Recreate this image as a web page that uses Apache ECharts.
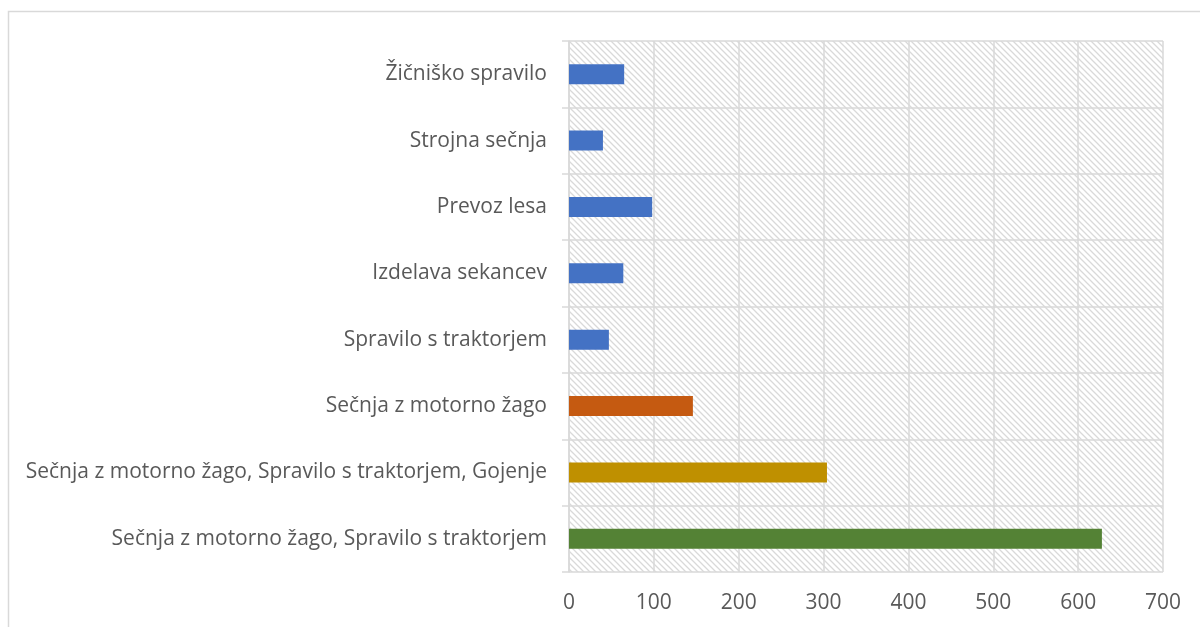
<!DOCTYPE html>
<html>
<head>
<meta charset="utf-8">
<script src="https://cdn.jsdelivr.net/npm/echarts@6/dist/echarts.min.js"></script>
<style>
  html, body { margin: 0; padding: 0; background: #fff; }
  #chart { width: 1200px; height: 627px; }
</style>
</head>
<body>
<div id="chart"></div>
<script>
// categories bottom to top (category axis starts at the bottom)
var categories = [
  'Sečnja z motorno žago, Spravilo s traktorjem',
  'Sečnja z motorno žago, Spravilo s traktorjem, Gojenje',
  'Sečnja z motorno žago',
  'Spravilo s traktorjem',
  'Izdelava sekancev',
  'Prevoz lesa',
  'Strojna sečnja',
  'Žičniško spravilo'
];
var values = [628, 304, 146, 47, 64, 98, 40, 65];
var barColors = ['#548235', '#BF9000', '#C55A11', '#4472C4', '#4472C4', '#4472C4', '#4472C4', '#4472C4'];
var xTicks = [0, 100, 200, 300, 400, 500, 600, 700];

// hatch pattern for the plot area
function makeHatch() {
  var c = document.createElement('canvas');
  c.width = 6; c.height = 6;
  var ctx = c.getContext('2d');
  ctx.fillStyle = '#ffffff';
  ctx.fillRect(0, 0, 6, 6);
  ctx.strokeStyle = '#d9d9d9';
  ctx.lineWidth = 1.3;
  ctx.beginPath();
  ctx.moveTo(-1, -1); ctx.lineTo(7, 7);
  ctx.moveTo(-4, 2); ctx.lineTo(2, 8);
  ctx.moveTo(2, -4); ctx.lineTo(8, 2);
  ctx.stroke();
  return c;
}

var myChart = echarts.init(document.getElementById('chart'));
var option = {
  animation: false,
  backgroundColor: '#ffffff',
  textStyle: { fontFamily: 'Open Sans' },
  graphic: [{
    type: 'rect',
    shape: { x: 8.5, y: 11.5, width: 1300, height: 700 },
    style: { fill: 'none', stroke: '#d9d9d9', lineWidth: 1.5 },
    silent: true
  }],
  grid: {
    left: 569, right: 37, top: 41, bottom: 55,
    show: true,
    borderWidth: 0,
    backgroundColor: { image: makeHatch(), repeat: 'repeat' }
  },
  xAxis: {
    type: 'value',
    min: 0, max: 700, interval: 100,
    axisLine: { show: false },
    axisTick: { show: false },
    axisLabel: {
      color: '#595959', fontSize: 21, margin: 21,
      formatter: function (v) { return xTicks.indexOf(v) >= 0 ? String(v) : ''; }
    },
    splitLine: { show: true, lineStyle: { color: '#d9d9d9', width: 1.5 } }
  },
  yAxis: {
    type: 'category',
    data: categories,
    boundaryGap: true,
    axisLine: { show: true, lineStyle: { color: '#d9d9d9', width: 1.5 } },
    axisTick: { show: true, length: 7, lineStyle: { color: '#d9d9d9', width: 1.5 } },
    axisLabel: { color: '#595959', fontSize: 21, margin: 22 },
    splitLine: { show: true, lineStyle: { color: '#d9d9d9', width: 1.5 } }
  },
  series: [{
    type: 'bar',
    barWidth: 20,
    data: values.map(function (v, i) {
      return { value: v, itemStyle: { color: barColors[i] } };
    })
  }]
};
myChart.setOption(option);
</script>
</body>
</html>
